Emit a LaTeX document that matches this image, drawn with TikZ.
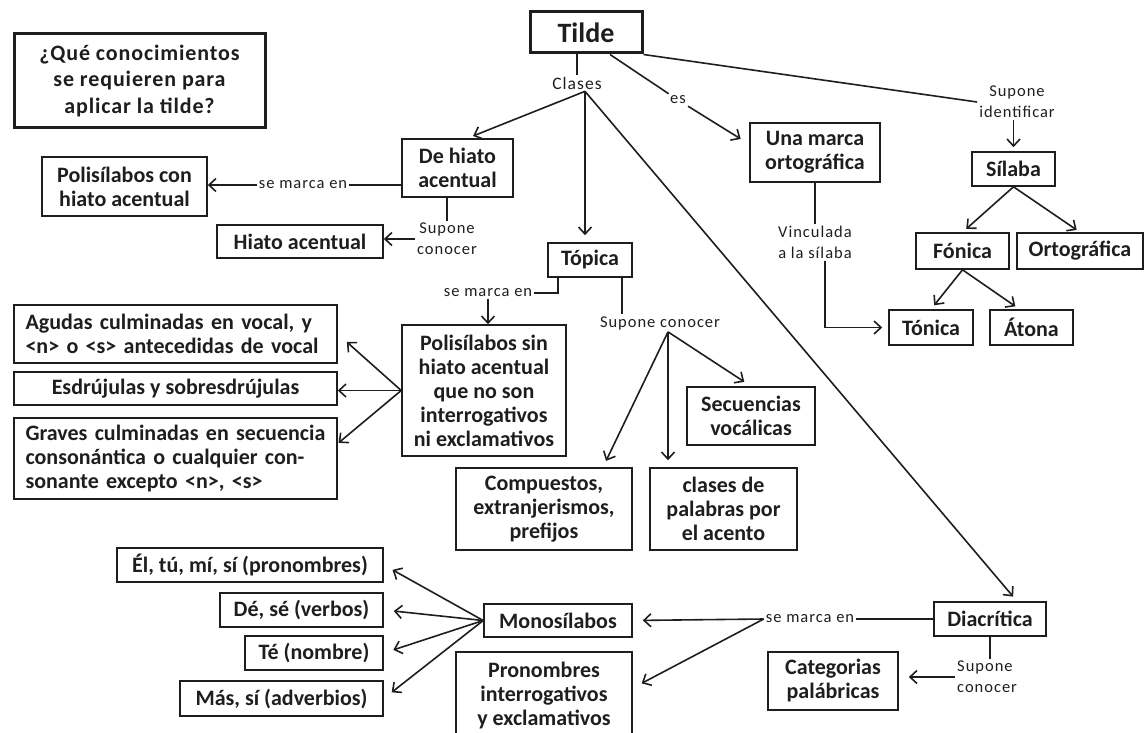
\documentclass[tikz,border=0pt]{standalone}
\usepackage{fontspec}
\setmainfont{Carlito}
\newfontfamily\lblfont[LetterSpace=6]{Carlito}
\newfontfamily\ttlfont[LetterSpace=4]{Carlito}
\usetikzlibrary{arrows.meta}
\definecolor{ink}{RGB}{30,30,30}
\begin{document}
\begin{tikzpicture}[x=1pt,y=-1pt,
 box/.style={draw=ink, line width=1.6pt, inner sep=0pt, align=center, text=ink, font=\bfseries\fontsize{22}{24}\selectfont},
 sz/.style 2 args={minimum width=#1pt, minimum height=#2pt},
 heavybox/.style={box, line width=3pt},
 lbl/.style={inner sep=2pt, align=center, text=ink, font=\lblfont\fontsize{16.5}{21}\selectfont},
 conn/.style={draw=ink, line width=1.6pt},
 arr/.style={conn, -{Straight Barb[length=7pt,width=13pt]}},
]
\useasboundingbox (0,0) rectangle (1145,733);
% boxes
\node[heavybox, sz={251}{94}, font=\ttlfont\bfseries\fontsize{22}{26.5}\selectfont] (q) at (139.5,81) {¿Qué conocimientos\\se requieren para\\aplicar la tilde?};
\node[heavybox, sz={112}{41}, font=\bfseries\fontsize{28}{30}\selectfont] (tilde) at (586,32.5) {Tilde};
\node[box, sz={111}{58}] (dehiato) at (457.5,168) {De hiato\\acentual};
\node[box, sz={165}{59}] (polcon) at (124.5,186.5) {Polisílabos con\\hiato acentual};
\node[box, sz={166}{33}] (hiato) at (300,241.5) {Hiato acentual};
\node[box, sz={84}{34}] (topica) at (590,260) {Tópica};
\node[box, sz={164}{131}] (polsin) at (484,390.5) {Polisílabos sin\\hiato acentual\\que no son\\interrogativos\\ni exclamativos};
\node[box, sz={323}{58}, text width=300pt, align=left] (agudas) at (175.5,334) {\makebox[300pt][s]{Agudas culminadas en vocal, y}\\<n> o <s> antecedidas de vocal};
\node[box, sz={323}{33}] (esdr) at (175.5,388.5) {Esdrújulas y sobresdrújulas};
\node[box, sz={323}{81}, text width=300pt, align=left] (graves) at (175.5,458.5) {\makebox[300pt][s]{Graves culminadas en secuencia}\\\makebox[300pt][s]{consonántica o cualquier con-}\\sonante excepto <n>, <s>};
\node[box, sz={128}{58}] (secuencias) at (751,416) {Secuencias\\vocálicas};
\node[box, sz={176}{82}] (compuestos) at (544,509) {Compuestos,\\extranjerismos,\\prefijos};
\node[box, sz={147}{82}] (clasesb) at (723.5,509) {clases de\\palabras por\\el acento};
\node[box, sz={130}{59}] (marca) at (815,152.5) {Una marca\\ortográfica};
\node[box, sz={83}{34}] (silaba) at (1013.5,169) {Sílaba};
\node[box, sz={93}{36}] (fonica) at (962.5,251) {Fónica};
\node[box, sz={126}{36}] (ortog) at (1080,251) {Ortográfica};
\node[box, sz={84}{35}] (tonica) at (931,327.5) {Tónica};
\node[box, sz={83}{35}] (atona) at (1031.5,327.5) {Átona};
\node[box, sz={112}{34}] (diacritica) at (990,619) {Diacrítica};
\node[box, sz={130}{58}] (categorias) at (833,681) {Categorias\\palábricas};
\node[box, sz={148}{33}] (mono) at (558,620.5) {Monosílabos};
\node[box, sz={176}{88}] (pronombres) at (544,696) {Pronombres\\interrogativos\\y exclamativos};
\node[box, sz={266}{34}] (el) at (250,565) {Él, tú, mí, sí (pronombres)};
\node[box, sz={163}{34}] (de) at (301.5,610) {Dé, sé (verbos)};
\node[box, sz={138}{34}] (te) at (314,653) {Té (nombre)};
\node[box, sz={203}{35}] (mas) at (281.5,698.5) {Más, sí (adverbios)};
% labels
\node[lbl, font=\lblfont\fontsize{17.5}{21}\selectfont] (clases) at (577,83) {Clases};
\node[lbl] (es) at (678,100) {es};
\node[lbl] (supid) at (1017,102) {Supone\\identificar};
\node[lbl] (vinc) at (815,242.5) {Vinculada\\a la sílaba};
\node[lbl] (sm1) at (303,185) {se marca en};
\node[lbl] (sc1) at (447,239) {Supone\\conocer};
\node[lbl] (sm2) at (488,293) {se marca en};
\node[lbl] (sc2) at (660,323) {Supone conocer};
\node[lbl] (sm3) at (810,619) {se marca en};
\node[lbl, align=left, anchor=west] (sc3) at (955,677) {Supone\\conocer};
% connectors
\coordinate (hubC) at ([xshift=8pt]clases.south);
\draw[conn] (clases.north |- tilde.south) -- (clases.north);
\draw[arr, shorten >=6pt] (hubC) -- ([xshift=10pt]dehiato.north);
\draw[arr, shorten >=7pt] (hubC) -- (hubC |- topica.north);
\draw[arr, shorten >=6pt] (hubC) -- ([xshift=27pt]diacritica.north);
\draw[conn] ([xshift=24pt]tilde.south) -- (es);
\draw[arr, shorten >=10pt] (es) -- ([yshift=-22pt]marca.north west);
\draw[conn] (tilde.south east) -- (supid.west);
\draw[arr, shorten >=4pt] (silaba.north |- supid.south) -- (silaba.north);
\draw[arr, shorten >=5pt] (silaba.south) -- (fonica.north);
\draw[arr, shorten >=4pt] (silaba.south) -- (ortog.north);
\draw[arr, shorten >=5pt] (fonica.south) -- (tonica.north);
\draw[arr, shorten >=5pt] (fonica.south) -- ([xshift=-12pt]atona.north);
\draw[conn] (marca.south) -- (vinc.north);
\draw[arr, shorten >=6pt] ([xshift=10pt]vinc.south) |- (tonica.west);
\draw[conn] ([yshift=-17pt]dehiato.west) -- (sm1.east);
\draw[arr] (sm1.west) -- (sm1.west -| polcon.east);
\draw[conn] (sc1.north |- dehiato.south) -- (sc1.north);
\draw[arr] (sc1.west) -- (sc1.west -| hiato.east);
\draw[conn] ([xshift=-32pt]topica.south) |- (sm2.east);
\draw[arr] (sm2.south) -- (sm2.south |- polsin.north);
\draw[arr, shorten >=12pt] (polsin.west) -- (agudas.east);
\draw[arr] (polsin.west) -- (polsin.west -| esdr.east);
\draw[arr, shorten >=1pt] (polsin.west) -- ([yshift=15pt]graves.east);
\draw[conn] ([xshift=32pt]topica.south) -- ([xshift=32pt]topica.south |- sc2.north);
\coordinate (hub2) at ([xshift=8pt]sc2.south);
\draw[arr, shorten >=7pt] (hub2) -- ([xshift=59pt]compuestos.north);
\draw[arr, shorten >=7pt] (hub2) -- (hub2 |- clasesb.north);
\draw[arr, shorten >=8pt] (hub2) -- (secuencias.north);
\draw[conn] (diacritica.west) -- (sm3.east);
\draw[arr, shorten >=10pt] (sm3.west) -- (mono.east);
\draw[arr, shorten >=10pt] (sm3.west) -- ([yshift=8pt]pronombres.east);
\draw[arr, shorten >=10pt] (mono.west) -- (el.east);
\draw[arr, shorten >=10pt] (mono.west) -- (de.east);
\draw[arr, shorten >=10pt] (mono.west) -- (te.east);
\draw[arr, shorten >=10pt] (mono.west) -- (mas.east);
\draw[conn] (diacritica.south) -- (diacritica.south |- sc3.north);
\draw[arr, shorten >=10pt] (sc3.west) -- (sc3.west -| categorias.east);
\end{tikzpicture}
\end{document}
